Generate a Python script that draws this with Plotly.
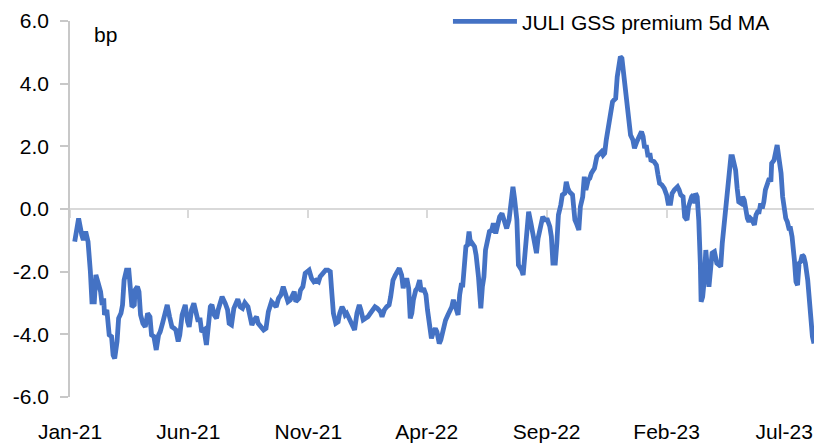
import pandas as pd
import plotly.graph_objects as go

# Days since 2021-01-01 and JULI GSS premium (bp)
start_date = "2021-01-01"
day_offset = [
    6, 9, 11, 15, 17, 20, 23, 26, 28, 31, 33, 36, 39, 41, 43, 44, 47, 50, 53, 55, 57, 60, 62, 65, 67, 69,
    72, 75, 78, 79, 82, 83, 86, 88, 90, 93, 96, 99, 102, 104, 107, 110, 113, 115, 118, 121, 124, 127, 130,
    133, 135, 138, 140, 143, 147, 150, 152, 155, 158,
    163, 166, 168, 171, 174, 176, 179, 181, 184, 187, 189, 194, 196, 198, 201, 203, 206, 209, 214, 217,
    220, 223, 227, 229, 232, 235, 238, 240, 244, 247, 250, 253, 257, 260, 263, 266, 269, 272, 275, 278,
    281, 284, 286, 288, 292, 294, 297, 300, 303, 305, 308, 311, 314, 317, 319,
    323, 326, 329, 332, 334, 336, 339, 342, 344, 347, 349, 351, 353, 357, 360, 363, 366, 369, 371, 374,
    377, 380, 383, 386, 389, 392, 396, 398, 401, 404, 407, 409, 412, 415, 418, 420, 423, 425, 427, 430,
    432, 434, 436, 438, 441, 443, 446, 448, 451, 454, 456, 459, 461, 463, 466, 468, 471, 473, 476, 479,
    482, 485, 487, 489, 492, 495, 497, 499, 501, 503, 505, 507, 509, 511, 513, 516, 518, 521, 524, 526,
    528, 530, 533, 535, 538, 540, 543, 546, 548, 551, 554, 557, 560, 563, 565, 567, 570, 572, 576, 578,
    581, 583, 585, 588, 591, 593, 595, 597, 600, 603, 606, 609, 612, 614, 616, 619, 621, 623, 626, 628,
    631, 633, 635, 637,
    641, 644, 646, 649, 651, 654, 656, 658, 661, 663, 665, 667, 669, 672, 675, 678, 680, 682, 684, 687,
    690, 692, 694, 696, 698, 700, 702, 704, 707, 709, 711, 713, 715, 718, 720, 723, 726, 729, 731, 733,
    735, 737, 740, 741, 745, 748, 750, 752, 755, 758, 761, 763, 766, 768, 771, 775, 777, 779, 782, 784,
    787, 789, 793, 795, 797,
    798, 800, 802, 804, 805, 807, 809, 811, 813, 815, 817, 819, 822, 825, 828, 830, 832, 834, 836, 839,
    841, 843, 845, 847, 849, 851, 853, 856, 858, 860, 862, 864, 866, 868, 870, 873, 875, 877, 879, 881,
    883, 885, 887, 890, 892, 894, 895, 898, 900, 902, 904, 907, 909, 911, 913, 915, 917, 919, 921, 924,
    926, 928, 930, 932, 934, 936, 938, 941, 943, 945, 947, 949,
]
premium_bp = [
    -1.04, -0.56, -0.30, -0.83, -0.99, -0.72, -1.04, -2.00, -2.96, -2.96, -2.10, -2.37, -2.64, -3.06, -2.85,
    -3.38, -3.22, -4.02, -4.07, -4.66, -4.77, -4.23, -3.49, -3.33, -3.06, -2.27, -1.95, -1.95, -2.74, -3.12,
    -3.06, -2.59, -2.48, -2.64, -3.38, -3.65, -3.76, -3.33, -3.44, -4.02, -4.07, -4.50, -4.02, -3.92, -3.65,
    -3.38, -3.06, -3.44, -3.76, -3.81, -3.86, -4.23, -4.02, -3.38, -3.06, -3.60, -3.76, -3.22, -3.01,
    -3.54, -3.54, -3.92, -3.86, -4.34, -3.76, -3.12, -3.06, -3.38, -3.49, -3.22, -2.80, -2.96, -3.01, -3.22,
    -3.65, -3.70, -3.17, -2.88, -3.12, -3.17, -2.99, -3.12, -3.38, -3.70, -3.54, -3.44, -3.65, -3.76, -3.86,
    -3.81, -3.28, -2.96, -3.06, -3.12, -2.85, -2.74, -2.48, -2.74, -2.96, -2.90, -2.69, -2.64, -2.96, -2.85,
    -2.59, -2.48, -2.05, -2.00, -1.95, -2.21, -2.32, -2.27, -2.32, -2.16,
    -2.00, -1.95, -1.95, -2.00, -2.69, -3.33, -3.65, -3.60, -3.33, -3.12, -3.22, -3.38, -3.33, -3.54, -3.76,
    -3.86, -3.33, -3.06, -3.22, -3.54, -3.49, -3.44, -3.33, -3.22, -3.12, -3.17, -3.28, -3.44, -3.22, -3.12,
    -3.06, -2.80, -2.27, -2.11, -2.00, -1.89, -2.11, -2.53, -2.27, -2.27, -2.53, -3.49, -3.33, -2.90, -2.59,
    -2.53, -2.27, -2.64, -2.53, -2.74, -3.22, -3.76, -4.13, -3.97, -3.81, -3.92, -4.29, -4.18, -3.76, -3.55,
    -3.38, -3.22, -3.12, -2.90, -3.17, -3.38, -2.74, -2.43, -2.43, -1.68, -1.20, -1.15, -0.72, -1.15, -1.09,
    -1.20, -1.47, -2.16, -3.17, -2.48, -2.16, -1.31, -0.83, -0.72, -0.67, -0.46, -0.78, -0.51, -0.25, -0.14,
    -0.46, -0.62, -0.35, 0.39, 0.71, 0.34, -0.35, -1.79, -1.95, -2.11, -1.15, -0.41, -0.09, -0.46, -0.88,
    -1.09, -1.41, -0.94, -0.56, -0.25, -0.35, -0.35, -0.56, -0.88, -1.73, -1.73, -1.09, -0.19, 0.13, 0.45,
    0.50, 0.87, 0.66, 0.55,
    0.45, -0.35, -0.46, -0.67, 0.07, 0.39, 1.03, 0.61, 0.93, 0.98, 1.14, 1.24, 1.30, 1.67, 1.78, 1.83, 1.72,
    1.78, 2.20, 2.68, 3.00, 3.42, 3.48, 3.53, 4.22, 4.65, 4.86, 4.81, 4.22, 3.80, 3.37, 2.84, 2.36, 2.20,
    1.94, 2.15, 2.36, 2.47, 2.31, 1.94, 2.04, 1.72, 1.72, 1.56, 1.51, 1.40, 1.09, 0.82, 0.77, 0.66, 0.45,
    0.18, 0.18, 0.50, 0.61, 0.71, 0.61, 0.45, 0.39, -0.25, -0.35, 0.07, 0.39, 0.45, 0.18,
    0.50, 0.39, -0.35, -1.73, -2.96, -2.80, -2.27, -1.31, -1.84, -2.48, -1.95, -1.41, -1.36, -1.73, -1.79,
    -1.84, -1.09, -0.62, -0.14, 0.71, 1.35, 1.67, 1.67, 1.51, 1.24, 0.66, 0.23, 0.18, 0.39, 0.29, -0.03,
    -0.30, -0.41, -0.30, -0.35, -0.51, -0.19, -0.09, -0.09, 0.18, 0.02, 0.23, 0.61, 0.82, 0.98, 0.87, 1.46,
    1.56, 1.78, 2.04, 1.67, 1.14, 0.39, -0.14, -0.30, -0.41, -0.62, -0.62, -0.88, -1.63, -2.32, -2.43, -1.73,
    -1.68, -1.47, -1.52, -1.73, -2.27, -3.01, -3.86, -4.07, -4.29,
]
series_name = "JULI GSS premium 5d MA"
y_tick_values = [-6, -4, -2, 0, 2, 4, 6]
y_tick_labels = ["-6.0", "-4.0", "-2.0", "0.0", "2.0", "4.0", "6.0"]
x_range = ["2021-01-01", "2023-08-08"]

dates = pd.Timestamp(start_date) + pd.to_timedelta(day_offset, unit="D")

FONT = "Liberation Sans, Arial, sans-serif"
BLUE = "#4472C4"
FS = 21

fig = go.Figure()
fig.add_trace(go.Scatter(
    x=dates, y=premium_bp, mode="lines", name=series_name,
    line=dict(color=BLUE, width=4.8),
))
# helper trace so the zero-crossing axis (x2) is drawn
fig.add_trace(go.Scatter(x=[dates[0]], y=[None], xaxis="x2", yaxis="y",
                         mode="lines", showlegend=False, hoverinfo="skip"))

fig.update_layout(
    width=814, height=443, autosize=False,
    margin=dict(l=70, r=0, t=21, b=46),
    paper_bgcolor="white", plot_bgcolor="white",
    font=dict(family=FONT, size=FS, color="#000000"),
    showlegend=True,
    legend=dict(x=0.508, xanchor="left", y=0.998, yanchor="middle",
                bgcolor="rgba(0,0,0,0)", borderwidth=0, itemwidth=64,
                font=dict(family=FONT, size=FS, color="#000000")),
    xaxis=dict(type="date", range=x_range, tickformat="%b-%y", dtick="M5",
               tick0="2021-01-01", ticks="", showline=False, showgrid=False,
               zeroline=False, ticklabelstandoff=20),
    xaxis2=dict(type="date", range=x_range, overlaying="x", anchor="free",
                position=0.5, side="bottom", dtick="M5", tick0="2021-01-01",
                showticklabels=False, showline=True, linecolor="#D9D9D9",
                linewidth=1.5, ticks="outside", ticklen=8, tickcolor="#D9D9D9",
                tickwidth=1.5, showgrid=False, zeroline=False, layer="below traces"),
    yaxis=dict(range=[-6, 6], tickvals=y_tick_values, ticktext=y_tick_labels,
               showline=True, linecolor="#C8C8C8", linewidth=1.5, ticks="outside",
               ticklen=8, tickcolor="#C8C8C8", tickwidth=1.5, showgrid=False,
               zeroline=False, ticklabelstandoff=7),
    annotations=[dict(text="bp", x=0.029, y=0.963, xref="paper", yref="paper",
                      xanchor="left", yanchor="middle", showarrow=False,
                      font=dict(family=FONT, size=FS, color="#000000"))],
)

fig.write_html(
    "out.html",
    config={"displayModeBar": False},
    post_script="document.body.style.margin='0';document.body.style.overflow='hidden';",
)
